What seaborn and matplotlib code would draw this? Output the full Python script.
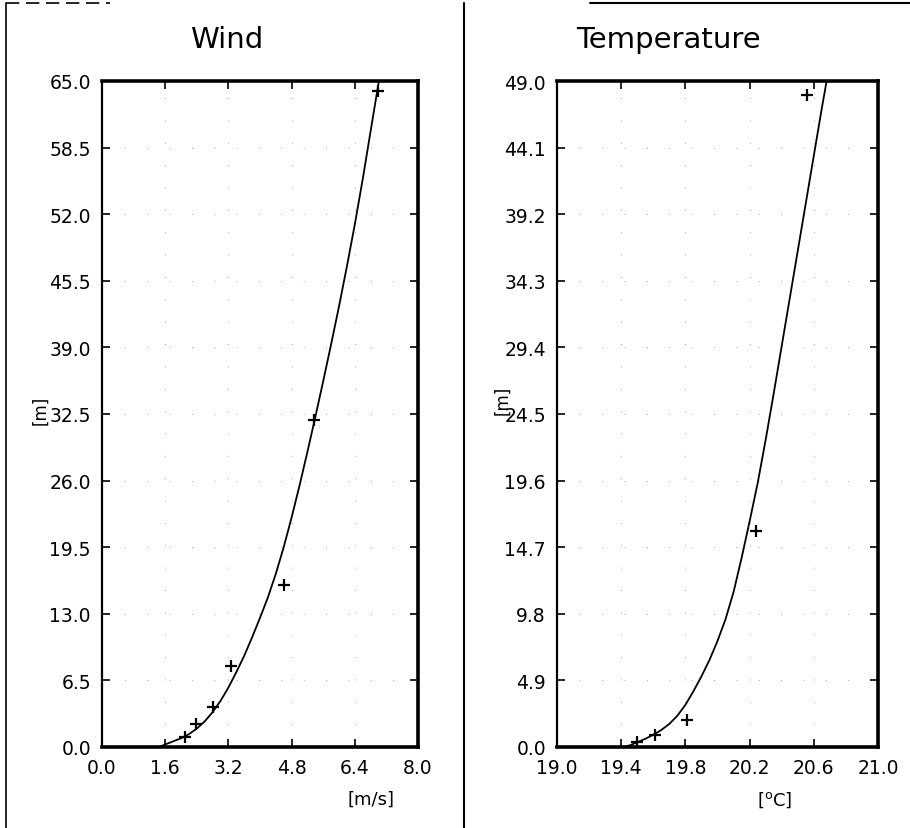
import matplotlib
matplotlib.use("Agg")
import matplotlib.pyplot as plt
from matplotlib.lines import Line2D
from matplotlib import font_manager
import pandas as pd
import seaborn as sns

# ---------------- data ----------------
wind_obs_speed = [2.10, 2.38, 2.81, 3.27, 4.61, 5.37, 6.99]
wind_obs_height = [1.0, 2.2, 3.9, 7.9, 15.8, 31.9, 64.0]
wind_fit_speed = [1.45, 1.60, 1.80, 2.00, 2.20, 2.40, 2.60, 2.80, 3.00, 3.20, 3.40, 3.60,
                  3.80, 4.00, 4.20, 4.40, 4.60, 4.80, 5.00, 5.20, 5.40, 5.60, 5.80, 6.00,
                  6.20, 6.40, 6.60, 6.80, 7.01]
wind_fit_height = [0.0, 0.25, 0.55, 0.85, 1.25, 1.8, 2.5, 3.4, 4.5, 5.8, 7.3, 8.9,
                   10.7, 12.6, 14.6, 16.9, 19.5, 22.4, 25.5, 28.8, 32.2, 35.7, 39.3, 43.0,
                   46.9, 51.0, 55.4, 60.1, 65.0]

temp_obs = [19.50, 19.61, 19.81, 20.24, 20.56]
temp_obs_height = [0.4, 0.9, 2.0, 15.9, 48.0]
temp_fit = [19.42, 19.46, 19.50, 19.55, 19.60, 19.65, 19.70, 19.75, 19.80, 19.85, 19.90,
            19.95, 20.00, 20.05, 20.10, 20.15, 20.20, 20.25, 20.30, 20.35, 20.40, 20.45,
            20.50, 20.55, 20.60, 20.65, 20.68]
temp_fit_height = [0.0, 0.15, 0.35, 0.6, 0.9, 1.25, 1.7, 2.3, 3.1, 4.1, 5.2,
                   6.4, 7.8, 9.4, 11.4, 13.9, 16.6, 19.4, 22.6, 26.0, 29.5, 33.0,
                   36.5, 40.0, 43.5, 47.0, 49.0]

wind_xticks = [0.0, 1.6, 3.2, 4.8, 6.4, 8.0]
wind_yticks = [0.0, 6.5, 13.0, 19.5, 26.0, 32.5, 39.0, 45.5, 52.0, 58.5, 65.0]
temp_xticks = [19.0, 19.4, 19.8, 20.2, 20.6, 21.0]
temp_yticks = [0.0, 4.9, 9.8, 14.7, 19.6, 24.5, 29.4, 34.3, 39.2, 44.1, 49.0]

titles = ["Wind", "Temperature"]
xlabels = ["[m/s]", "[$^{\\rm o}$C]"]
ylabel = "[m]"

# ---------------- style ----------------
sns.set_style("ticks")
names = {f.name for f in font_manager.fontManager.ttflist}
narrow = "Liberation Sans Narrow" if "Liberation Sans Narrow" in names else "DejaVu Sans"
plt.rcParams["font.family"] = ["DejaVu Sans"]
plt.rcParams["text.color"] = "black"

fig = plt.figure(figsize=(9.10, 8.29), dpi=100)
fig.patch.set_facecolor("white")

W, H = 910.0, 829.0
def ax_rect(x0, x1, y0, y1):
    return [x0 / W, 1 - y1 / H, (x1 - x0) / W, (y1 - y0) / H]

ax1 = fig.add_axes(ax_rect(102, 418, 82, 748))
ax2 = fig.add_axes(ax_rect(557, 878, 82, 748))

wind_fit = pd.DataFrame({"x": wind_fit_speed, "y": wind_fit_height})
wind_obs = pd.DataFrame({"x": wind_obs_speed, "y": wind_obs_height})
t_fit = pd.DataFrame({"x": temp_fit, "y": temp_fit_height})
t_obs = pd.DataFrame({"x": temp_obs, "y": temp_obs_height})

for ax, fit, obs, xt, yt, title, tx in [
    (ax1, wind_fit, wind_obs, wind_xticks, wind_yticks, titles[0], 227),
    (ax2, t_fit, t_obs, temp_xticks, temp_yticks, titles[1], 668),
]:
    sns.lineplot(data=fit, x="x", y="y", ax=ax, sort=False, estimator=None,
                 color="black", lw=1.3)
    sns.scatterplot(data=obs, x="x", y="y", ax=ax, marker="+", s=65,
                    color="black", linewidth=1.6, zorder=5)
    ax.set_xlim(xt[0], xt[-1])
    ax.set_ylim(yt[0], yt[-1])
    ax.set_xticks(xt)
    ax.set_yticks(yt)
    ax.set_xticklabels([f"{v:.1f}" for v in xt])
    ax.set_yticklabels([f"{v:.1f}" for v in yt])
    ax.tick_params(direction="in", length=6, width=1.2, top=True, right=True,
                   labelsize=13.5, pad=8, colors="black")
    ax.grid(True, color="#aaaaaa", lw=0.7, linestyle=(0, (1, 22)))
    for side in ["top", "bottom", "right"]:
        ax.spines[side].set_linewidth(2.6)
        ax.spines[side].set_color("black")
    ax.spines["left"].set_linewidth(1.6)
    ax.spines["left"].set_color("black")
    ax.set_xlabel("")
    ax.set_ylabel("")
    fig.text(tx / W, 1 - 40 / H, title, ha="center", va="center", color="black",
             fontsize=21, family=[narrow, "DejaVu Sans"])

fig.text(40 / W, 1 - 410 / H, ylabel, rotation=90, ha="center", va="center", fontsize=12, color="black")
fig.text(502 / W, 1 - 400 / H, ylabel, rotation=90, ha="center", va="center", fontsize=12, color="black")
fig.text(371 / W, 1 - 800 / H, xlabels[0], ha="center", va="center", fontsize=13, color="black")
fig.text(775 / W, 1 - 800 / H, xlabels[1], ha="center", va="center", fontsize=13, color="black")

# panel frame lines
fig.add_artist(Line2D([6 / W, 6 / W], [0, 1 - 4 / H], color="black", lw=1.2))
fig.add_artist(Line2D([464 / W, 464 / W], [0, 1 - 4 / H], color="black", lw=1.5))
fig.add_artist(Line2D([6 / W, 110 / W], [1 - 4 / H, 1 - 4 / H], color="black", lw=1.2, linestyle=(0, (8, 4))))
fig.add_artist(Line2D([590 / W, 1.0], [1 - 4 / H, 1 - 4 / H], color="black", lw=1.5))

fig.savefig("out.png", dpi=100, facecolor="white")
